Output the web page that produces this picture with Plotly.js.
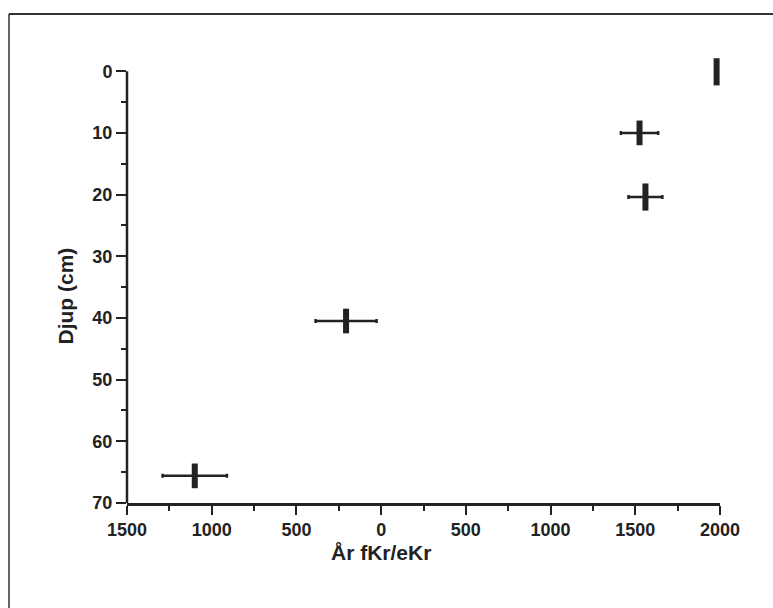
<!DOCTYPE html>
<html>
<head>
<meta charset="utf-8">
<script src="https://cdn.plot.ly/plotly-3.0.1.min.js"></script>
<style>html,body{margin:0;padding:0;background:#fff;}#chart{width:773px;height:608px;}</style>
</head>
<body>
<div id="chart"></div>
<script>
// Data (year: negative = fKr, positive = eKr)
const years = [1980, 1525, 1560, -207, -1100];
const yearErr = [0, 110, 100, 180, 190];
const depths = [0.1, 10, 20.4, 40.5, 65.6];
const depthErr = [2.2, 2, 2.2, 2, 2];

const xTickVals = [-1500, -1000, -500, 0, 500, 1000, 1500, 2000];
const xTickText = ["1500", "1000", "500", "0", "500", "1000", "1500", "2000"];

const ink = "#222222";
const fontFam = "Liberation Sans, Arial, sans-serif";

const trace = {
  x: years,
  y: depths,
  type: "scatter",
  mode: "markers",
  cliponaxis: false,
  marker: {size: 2, color: ink},
  error_x: {type: "data", array: yearErr, visible: true, thickness: 2.5, width: 2, color: ink},
  error_y: {type: "data", array: depthErr, visible: true, thickness: 6, width: 0, color: ink},
  hoverinfo: "x+y"
};

const layout = {
  width: 773,
  height: 608,
  margin: {l: 127, r: 53, t: 57, b: 105},
  paper_bgcolor: "#ffffff",
  plot_bgcolor: "#ffffff",
  showlegend: false,
  font: {family: fontFam, color: ink, size: 18},
  xaxis: {
    range: [-1500, 2000],
    tickmode: "array",
    tickvals: xTickVals,
    ticktext: xTickText,
    ticks: "outside",
    ticklen: 9,
    tickwidth: 2,
    tickcolor: ink,
    showline: true,
    linewidth: 2.5,
    linecolor: ink,
    showgrid: false,
    zeroline: false,
    tickfont: {family: fontFam, size: 18, color: ink, weight: "bold"},
    minor: {dtick: 250, tick0: -1500, ticks: "outside", ticklen: 5, tickwidth: 2, tickcolor: ink, showgrid: false}
  },
  yaxis: {
    range: [70, -2.3],
    tickmode: "array",
    tickvals: [0, 10, 20, 30, 40, 50, 60, 70],
    ticks: "outside",
    ticklen: 10,
    tickwidth: 2,
    tickcolor: ink,
    showline: false,
    showgrid: false,
    zeroline: false,
    tickfont: {family: fontFam, size: 18, color: ink, weight: "bold"},
    minor: {tickmode: "array", tickvals: [5, 15, 25, 35, 45, 55, 65], ticks: "outside", ticklen: 5, tickwidth: 2, tickcolor: ink, showgrid: false}
  },
  annotations: [
    {text: "År fKr/eKr", x: 0, xref: "x", y: -0.11, yref: "paper", showarrow: false,
     xanchor: "center", yanchor: "middle", font: {family: fontFam, size: 21, color: ink, weight: "bold"}},
    {text: "Djup (cm)", x: -0.103, xref: "paper", y: 0.465, yref: "paper", showarrow: false,
     textangle: -90, xanchor: "center", yanchor: "middle", font: {family: fontFam, size: 21, color: ink, weight: "bold"}}
  ],
  shapes: [
    // left axis line spanning only the 0–70 cm depth interval
    {type: "line", xref: "paper", yref: "y", x0: 0, x1: 0, y0: 0, y1: 70,
     line: {color: ink, width: 2.5}},
    // scanned page frame
    {type: "line", xref: "paper", yref: "paper", x0: -0.199, x1: -0.199, y0: 1.0964, y1: -0.3,
     line: {color: "#333", width: 1.5}},
    {type: "line", xref: "paper", yref: "paper", x0: -0.199, x1: 1.2, y0: 1.0964, y1: 1.0964,
     line: {color: "#333", width: 2}}
  ]
};

Plotly.newPlot("chart", [trace], layout, {displayModeBar: false, staticPlot: true});
</script>
</body>
</html>
